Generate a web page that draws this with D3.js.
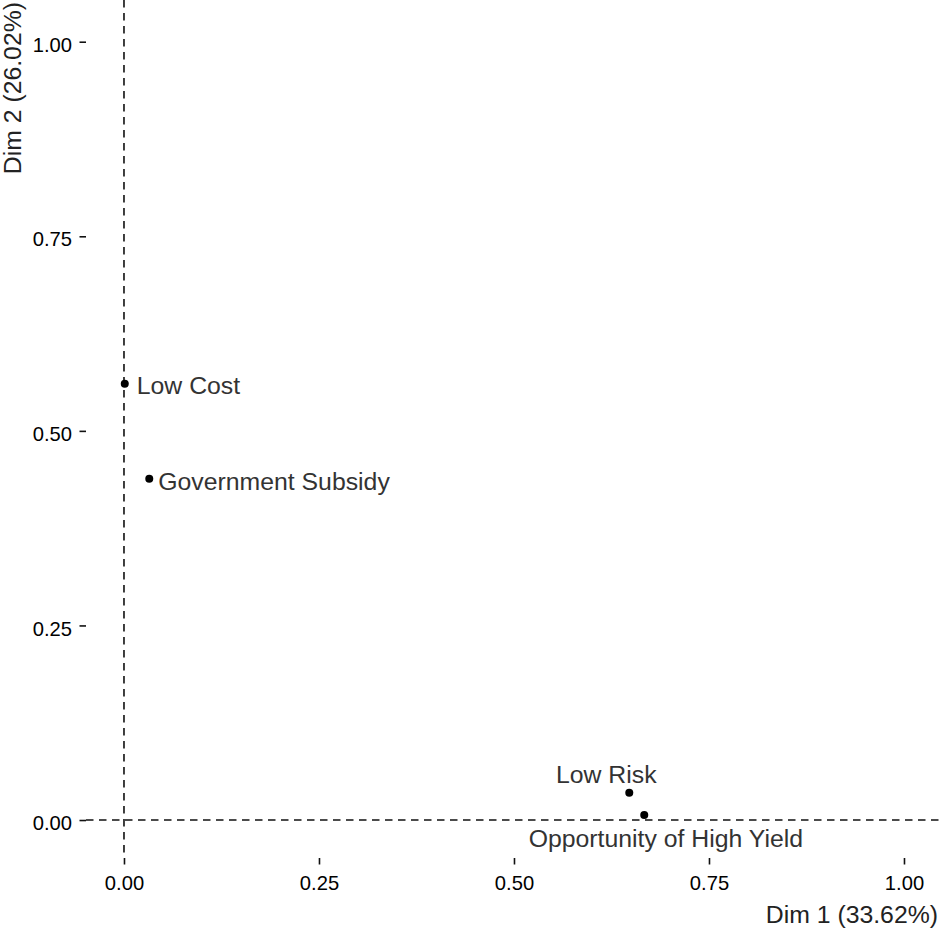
<!DOCTYPE html>
<html>
<head>
<meta charset="utf-8">
<script src="https://cdn.jsdelivr.net/npm/d3@7"></script>
<style>
  html, body { margin: 0; padding: 0; background: #fff; }
  svg { display: block; }
</style>
</head>
<body>
<svg id="chart" width="944" height="931"></svg>
<script>
// ---- data ----
const categories = ["Low Cost", "Government Subsidy", "Low Risk", "Opportunity of High Yield"];
const dim1Values = [0.001, 0.0324, 0.6478, 0.667];
const dim2Values = [0.5606, 0.4386, 0.035, 0.0064];
const xTickValues = [0, 0.25, 0.5, 0.75, 1.0];
const yTickValues = [0, 0.25, 0.5, 0.75, 1.0];
const xTitle = "Dim 1 (33.62%)";
const yTitle = "Dim 2 (26.02%)";

// label placement (pixel nudges, repel-like layout)
const labelNudge = [
  { dx: 12, dy: 10.7, anchor: "start" },
  { dx: 9, dy: 11.7, anchor: "start" },
  { dx: -23, dy: -9.4, anchor: "middle" },
  { dx: 21.6, dy: 32, anchor: "middle" }
];

// ---- layout ----
const panel = { left: 86, right: 944, top: 0, bottom: 858 };
const FONT = "'Liberation Sans', Arial, Helvetica, sans-serif";

const svg = d3.select("#chart");

const x = d3.scaleLinear().domain([-0.0487, 1.0513]).range([panel.left, panel.right]);
const y = d3.scaleLinear().domain([-0.0488, 1.0536]).range([panel.bottom, panel.top]);

const fmt = d3.format(".2f");

// axes
const xAxis = svg.append("g")
  .attr("transform", `translate(0,${panel.bottom})`)
  .call(d3.axisBottom(x).tickValues(xTickValues).tickFormat(fmt).tickSize(6.5).tickPadding(11.2));
const yAxis = svg.append("g")
  .attr("transform", `translate(${panel.left},0)`)
  .call(d3.axisLeft(y).tickValues(yTickValues).tickFormat(fmt).tickSize(6.5).tickPadding(7.5));

[xAxis, yAxis].forEach(g => {
  g.select(".domain").remove();
  g.selectAll(".tick line").attr("stroke", "#111").attr("stroke-width", 1.6);
  g.selectAll(".tick text")
    .attr("fill", "#000")
    .style("font-family", FONT)
    .style("font-size", "20.2px");
});
yAxis.selectAll(".tick text").attr("dy", "0.48em");

// zero reference lines
svg.append("line")
  .attr("x1", x(0)).attr("x2", x(0))
  .attr("y1", panel.top).attr("y2", panel.bottom)
  .attr("stroke", "#111").attr("stroke-width", 1.6)
  .attr("stroke-dasharray", "7.5,5.5");
svg.append("line")
  .attr("x1", panel.left).attr("x2", panel.right)
  .attr("y1", y(0)).attr("y2", y(0))
  .attr("stroke", "#111").attr("stroke-width", 1.6)
  .attr("stroke-dasharray", "7.5,5.5");

// points
const pts = categories.map((c, i) => ({ name: c, d1: dim1Values[i], d2: dim2Values[i], nudge: labelNudge[i] }));

svg.append("g").selectAll("circle")
  .data(pts)
  .join("circle")
  .attr("cx", d => x(d.d1))
  .attr("cy", d => y(d.d2))
  .attr("r", 4)
  .attr("fill", "#000");

svg.append("g").selectAll("text")
  .data(pts)
  .join("text")
  .attr("x", d => x(d.d1) + d.nudge.dx)
  .attr("y", d => y(d.d2) + d.nudge.dy)
  .attr("text-anchor", d => d.nudge.anchor)
  .attr("fill", "#333")
  .style("font-family", FONT)
  .style("font-size", "24.8px")
  .text(d => d.name);

// axis titles
svg.append("text")
  .attr("x", 938).attr("y", 923)
  .attr("text-anchor", "end")
  .attr("fill", "#222")
  .style("font-family", FONT)
  .style("font-size", "24.8px")
  .text(xTitle);

svg.append("text")
  .attr("transform", "translate(21,2) rotate(-90)")
  .attr("text-anchor", "end")
  .attr("fill", "#222")
  .style("font-family", FONT)
  .style("font-size", "24.8px")
  .text(yTitle);
</script>
</body>
</html>
